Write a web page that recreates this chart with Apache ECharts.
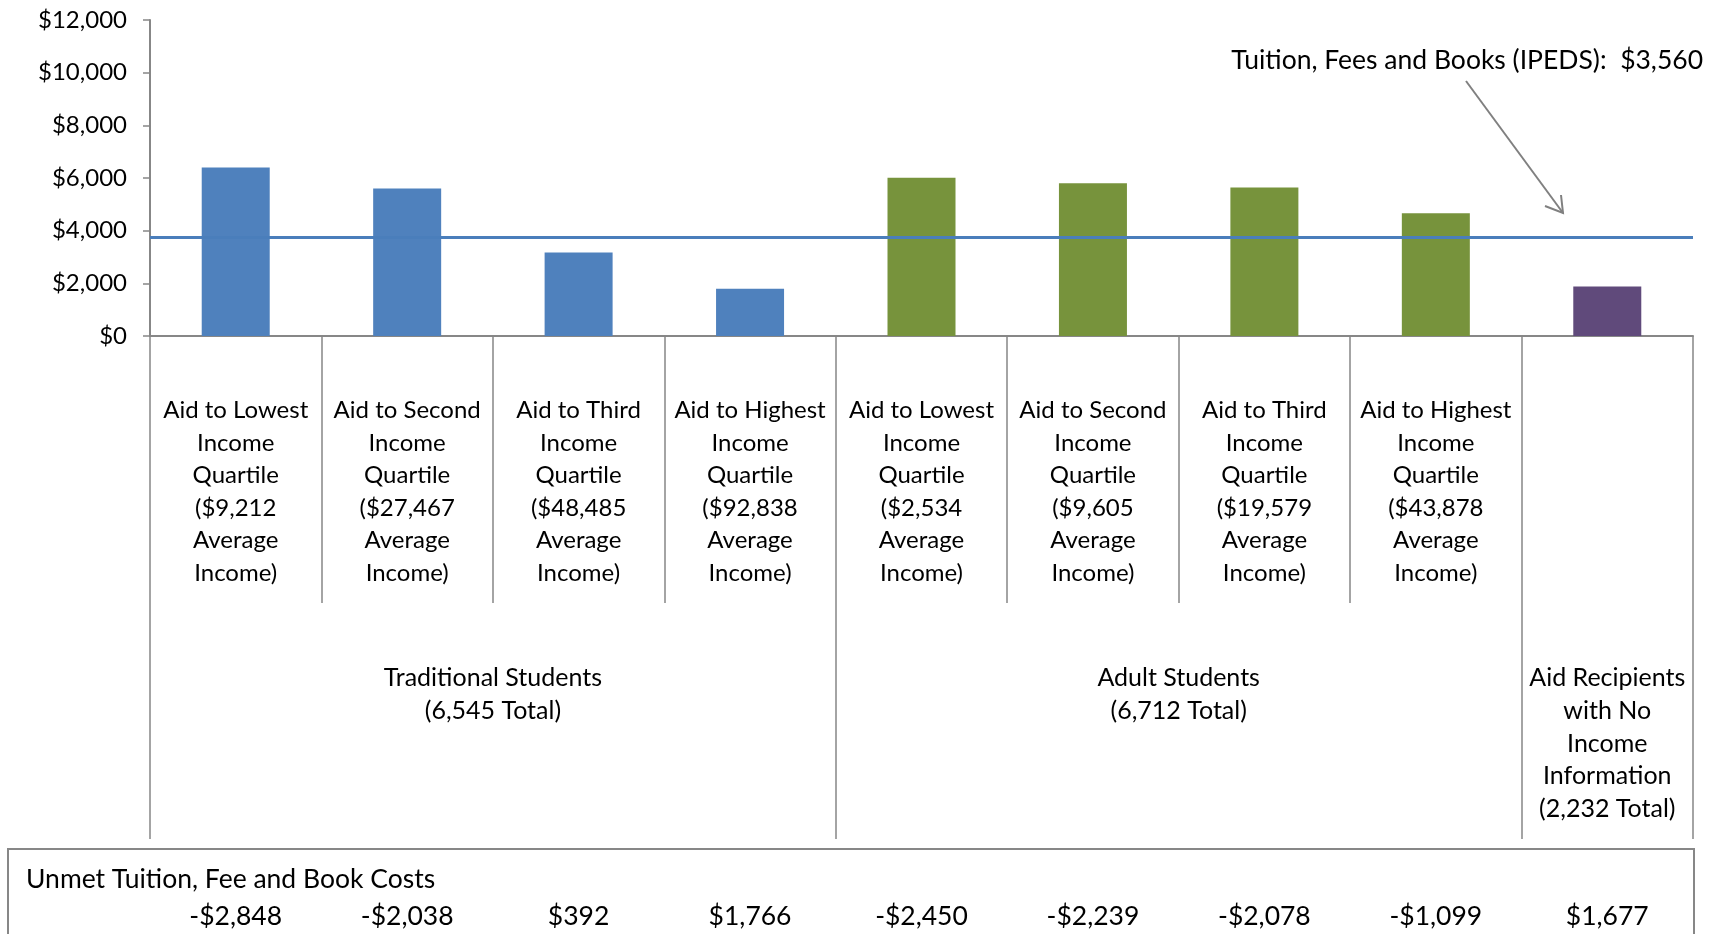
<!DOCTYPE html>
<html>
<head>
<meta charset="utf-8">
<script src="https://cdn.jsdelivr.net/npm/echarts@6/dist/echarts.min.js"></script>
<style>
html,body{margin:0;padding:0;background:#fff;}
#chart{width:1716px;height:934px;}
</style>
</head>
<body>
<div id="chart"></div>
<script>
// ---- data ----
const categories = [
  "Aid to Lowest\nIncome\nQuartile\n($9,212\nAverage\nIncome)",
  "Aid to Second\nIncome\nQuartile\n($27,467\nAverage\nIncome)",
  "Aid to Third\nIncome\nQuartile\n($48,485\nAverage\nIncome)",
  "Aid to Highest\nIncome\nQuartile\n($92,838\nAverage\nIncome)",
  "Aid to Lowest\nIncome\nQuartile\n($2,534\nAverage\nIncome)",
  "Aid to Second\nIncome\nQuartile\n($9,605\nAverage\nIncome)",
  "Aid to Third\nIncome\nQuartile\n($19,579\nAverage\nIncome)",
  "Aid to Highest\nIncome\nQuartile\n($43,878\nAverage\nIncome)",
  ""
];
const traditionalAid = [6400, 5600, 3170, 1790, null, null, null, null, null];
const adultAid       = [null, null, null, null, 6010, 5800, 5640, 4660, null];
const noIncomeAid    = [null, null, null, null, null, null, null, null, 1880];
const unmetCosts = ["-$2,848", "-$2,038", "$392", "$1,766", "-$2,450", "-$2,239", "-$2,078", "-$1,099", "$1,677"];
const groupNames = ["Traditional Students\n(6,545 Total)", "Adult Students\n(6,712 Total)", "Aid Recipients\nwith No\nIncome\nInformation\n(2,232 Total)"];
const groupBoundaries = [0, 4, 8, 9];
const groupCenters = [2, 6, 8.5];
const tuitionLine = 3750;
const tuitionLabel = "Tuition, Fees and Books (IPEDS):  $3,560";
const tableTitle = "Unmet Tuition, Fee and Book Costs";

// ---- chart ----
const FONT = 'Lato, "Open Sans", sans-serif';
const FS = 24;
const FS_BIG = 26.5;
const LH = 32.6;
const GRAY = '#878787';
const chart = echarts.init(document.getElementById('chart'), null, {renderer: 'canvas'});

function fmtDollar(v) {
  return '$' + v.toString().replace(/\B(?=(\d{3})+(?!\d))/g, ',');
}

const barCommon = {
  type: 'bar', barWidth: 68, barGap: '-100%', xAxisIndex: 0, yAxisIndex: 0, animation: false
};

chart.setOption({
  animation: false,
  textStyle: {fontFamily: FONT},
  grid: {left: 150, right: 23, top: 20, bottom: 598, containLabel: false},
  xAxis: [
    {
      type: 'category', data: categories, position: 'bottom', boundaryGap: true,
      axisLine: {show: true, lineStyle: {color: GRAY, width: 2}},
      axisTick: {show: true, length: 267, lineStyle: {color: GRAY, width: 1.5}},
      axisLabel: {interval: 0, margin: 58, color: '#000', fontFamily: FONT, fontSize: FS, lineHeight: LH, align: 'center'}
    },
    {
      type: 'value', min: 0, max: 9, position: 'bottom',
      axisLine: {show: false},
      splitLine: {show: false},
      axisTick: {show: true, customValues: groupBoundaries, length: 503, lineStyle: {color: GRAY, width: 1.5}},
      axisLabel: {
        customValues: groupCenters, margin: 326, color: '#000', fontFamily: FONT, fontSize: 25, lineHeight: LH,
        formatter: function (v) { const i = groupCenters.indexOf(v); return i >= 0 ? groupNames[i] : ''; }
      }
    },
    {
      type: 'category', data: unmetCosts, position: 'bottom', boundaryGap: true,
      axisLine: {show: false}, axisTick: {show: false},
      axisLabel: {interval: 0, margin: 562, color: '#000', fontFamily: FONT, fontSize: FS_BIG, lineHeight: 36}
    }
  ],
  yAxis: [{
    type: 'value', min: 0, max: 12000, interval: 2000,
    axisLine: {show: true, lineStyle: {color: GRAY, width: 2}},
    axisTick: {show: true, length: 7, lineStyle: {color: GRAY, width: 1.5}},
    splitLine: {show: false},
    axisLabel: {margin: 23, color: '#000', fontFamily: FONT, fontSize: FS, formatter: fmtDollar}
  }],
  series: [
    Object.assign({}, barCommon, {name: 'Traditional', data: traditionalAid, itemStyle: {color: '#4f81bd'},
      markLine: {
        silent: true, symbol: 'none', label: {show: false},
        lineStyle: {color: '#4a7ebb', width: 3, type: 'solid'},
        data: [{yAxis: tuitionLine}]
      }}),
    Object.assign({}, barCommon, {name: 'Adult', data: adultAid, itemStyle: {color: '#77933c'}}),
    Object.assign({}, barCommon, {name: 'No income', data: noIncomeAid, itemStyle: {color: '#604a7b'}})
  ],
  graphic: [
    {type: 'rect', shape: {x: 8, y: 849, width: 1686, height: 120}, style: {fill: 'none', stroke: GRAY, lineWidth: 2}, silent: true},
    {type: 'text', x: 26, y: 879, style: {text: tableTitle, fill: '#000', font: FS_BIG + 'px ' + FONT, textVerticalAlign: 'middle', textAlign: 'left'}},
    {type: 'text', x: 1703, y: 60, style: {text: tuitionLabel, fill: '#000', font: FS_BIG + 'px ' + FONT, textVerticalAlign: 'middle', textAlign: 'right'}},
    {type: 'line', shape: {x1: 1466, y1: 81, x2: 1563, y2: 213}, style: {stroke: '#808080', lineWidth: 2}},
    {type: 'polyline', shape: {points: [[1545, 206], [1563, 213], [1561, 195]]}, style: {stroke: '#808080', lineWidth: 2, fill: 'none'}}
  ]
});
</script>
</body>
</html>
